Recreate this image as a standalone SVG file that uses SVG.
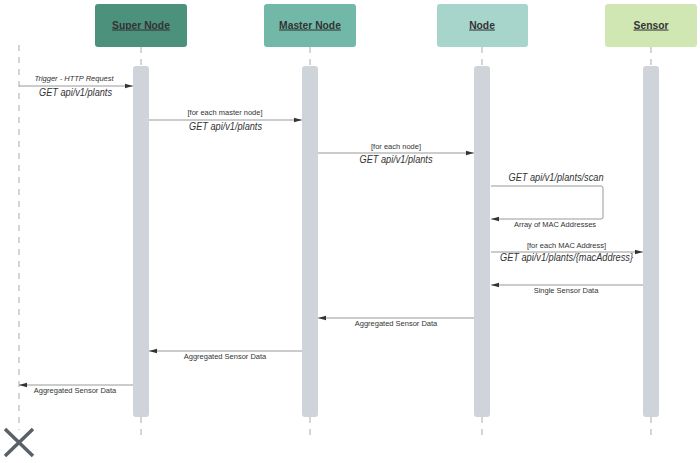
<svg xmlns="http://www.w3.org/2000/svg" width="700" height="463" viewBox="0 0 700 463">
<defs>
<style>
.ht{font-family:"Liberation Sans",Arial,sans-serif;font-size:10.3px;font-weight:bold;fill:#333;text-anchor:middle;text-decoration:underline}
.life{stroke:#aaa;stroke-width:1;stroke-dasharray:6,6;fill:none}
.bar{fill:#cfd4db;stroke:none}
.msg{stroke:#999;stroke-width:1;fill:none}
.sm{font-family:"Liberation Sans",Arial,sans-serif;font-size:7.5px;fill:#333;text-anchor:middle}
.smi{font-family:"Liberation Sans",Arial,sans-serif;font-size:7.5px;fill:#333;text-anchor:middle;font-style:italic}
.big{font-family:"Liberation Sans",Arial,sans-serif;font-size:11px;fill:#333;text-anchor:middle;font-style:italic}
</style>
<marker id="ah" markerWidth="10" markerHeight="6" refX="8" refY="3" orient="auto" markerUnits="userSpaceOnUse">
<path d="M0,0.8 L8,3 L0,5.2 Z" fill="#333"/>
</marker>
</defs>
<rect width="700" height="463" fill="#fff"/>

<g id="actor">
<line x1="19" y1="45" x2="19" y2="430" class="life"/>
<path d="M5,429 L33,456 M33,429 L5,456" stroke="#5a6068" stroke-width="3.5" fill="none"/>
</g>

<g id="super-node">
<rect x="95" y="4" width="92" height="43" rx="3" fill="#4c917b"/>
<text x="141" y="28.5" class="ht">Super Node</text>
<line x1="141" y1="47" x2="141" y2="66" class="life"/>
<line x1="141" y1="417" x2="141" y2="436" class="life"/>
<rect x="133" y="66" width="16" height="351" rx="3" class="bar"/>
</g>

<g id="master-node">
<rect x="264" y="4" width="92" height="43" rx="3" fill="#72b8a8"/>
<text x="310" y="28.5" class="ht">Master Node</text>
<line x1="310" y1="47" x2="310" y2="66" class="life"/>
<line x1="310" y1="417" x2="310" y2="436" class="life"/>
<rect x="302" y="66" width="16" height="351" rx="3" class="bar"/>
</g>

<g id="node">
<rect x="437" y="4" width="91" height="43" rx="3" fill="#a7d4cb"/>
<text x="482" y="28.5" class="ht">Node</text>
<line x1="482" y1="47" x2="482" y2="66" class="life"/>
<line x1="482" y1="417" x2="482" y2="436" class="life"/>
<rect x="474" y="66" width="16" height="351" rx="3" class="bar"/>
</g>

<g id="sensor">
<rect x="605" y="4" width="92" height="43" rx="3" fill="#d0e7b4"/>
<text x="651" y="28.5" class="ht">Sensor</text>
<line x1="651" y1="47" x2="651" y2="66" class="life"/>
<line x1="651" y1="417" x2="651" y2="436" class="life"/>
<rect x="643" y="66" width="16" height="351" rx="3" class="bar"/>
</g>

<g id="connectors">
<line x1="19" y1="86" x2="133" y2="86" class="msg" marker-end="url(#ah)"/>
<text x="74" y="81" class="smi">Trigger - HTTP Request</text>
<text x="75.5" y="95.8" class="big" textLength="73" lengthAdjust="spacingAndGlyphs">GET api/v1/plants</text>

<line x1="149" y1="120" x2="302" y2="120" class="msg" marker-end="url(#ah)"/>
<text x="225" y="115" class="sm">[for each master node]</text>
<text x="225.5" y="129.6" class="big" textLength="73" lengthAdjust="spacingAndGlyphs">GET api/v1/plants</text>

<line x1="318" y1="153" x2="474" y2="153" class="msg" marker-end="url(#ah)"/>
<text x="396" y="148.5" class="sm">[for each node]</text>
<text x="396" y="162.8" class="big" textLength="73" lengthAdjust="spacingAndGlyphs">GET api/v1/plants</text>

<path d="M491,186 L601,186 Q603,186 603,188 L603,217 Q603,219 601,219 L491,219" class="msg" marker-end="url(#ah)"/>
<text x="556" y="181.2" class="big" textLength="95" lengthAdjust="spacingAndGlyphs">GET api/v1/plants/scan</text>
<text x="555" y="227" class="sm">Array of MAC Addresses</text>

<line x1="491" y1="252" x2="643" y2="252" class="msg" marker-end="url(#ah)"/>
<text x="566.5" y="247.5" class="sm">[for each MAC Address]</text>
<text x="566.5" y="261.3" class="big" textLength="133" lengthAdjust="spacingAndGlyphs">GET api/v1/plants/{macAddress}</text>

<line x1="643" y1="285" x2="491" y2="285" class="msg" marker-end="url(#ah)"/>
<text x="566" y="293" class="sm">Single Sensor Data</text>

<line x1="474" y1="318" x2="318" y2="318" class="msg" marker-end="url(#ah)"/>
<text x="396" y="326" class="sm">Aggregated Sensor Data</text>

<line x1="302" y1="351" x2="149" y2="351" class="msg" marker-end="url(#ah)"/>
<text x="225" y="359" class="sm">Aggregated Sensor Data</text>

<line x1="133" y1="385" x2="19" y2="385" class="msg" marker-end="url(#ah)"/>
<text x="75" y="392.8" class="sm">Aggregated Sensor Data</text>
</g>
</svg>
